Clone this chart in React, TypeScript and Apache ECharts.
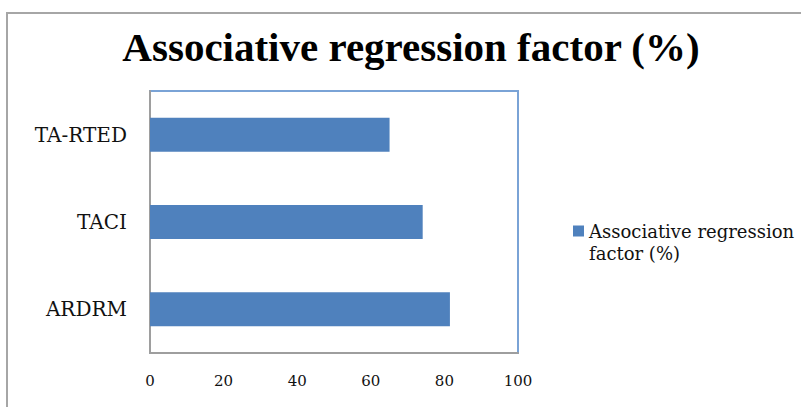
import React, { useEffect, useRef } from "react";
import * as echarts from "echarts";

const categories = ["ARDRM", "TACI", "TA-RTED"];
const values = [81.5, 74.1, 65.1];
const xTicks = { min: 0, max: 100, interval: 20 };
const seriesName = "Associative regression factor (%)";
const titleText = "Associative regression factor (%)";

export default function App() {
  const ref = useRef<HTMLDivElement>(null);
  useEffect(() => {
    if (!ref.current) return;
    const chart = echarts.init(ref.current, undefined, { renderer: "svg" });
    chart.setOption({
      animation: false,
      backgroundColor: "#ffffff",
      title: {
        text: titleText,
        left: 411,
        textAlign: "center",
        top: 26,
        padding: 0,
        textStyle: {
          fontFamily: "Liberation Serif",
          fontWeight: "bold",
          fontSize: 41,
          color: "#000000",
        },
      },
      graphic: [
        {
          type: "rect",
          shape: { x: 7, y: 13, width: 800, height: 400 },
          style: { fill: "none", stroke: "#a6a6a6", lineWidth: 2 },
          silent: true,
        },
        {
          type: "text",
          left: 589,
          top: 244,
          style: {
            text: "factor (%)",
            fontFamily: "DejaVu Serif",
            fontSize: 18,
            fill: "#111111",
          },
        },
      ],
      legend: {
        left: 573,
        top: 222,
        padding: 0,
        itemWidth: 11,
        itemHeight: 11,
        itemGap: 5,
        icon: "rect",
        formatter: () => "Associative regression",
        textStyle: {
          fontFamily: "DejaVu Serif",
          fontSize: 18,
          color: "#111111",
        },
        data: [seriesName],
      },
      grid: {
        left: 150,
        top: 91,
        right: 283,
        bottom: 54,
        show: true,
        borderColor: "#7aa3d6",
        borderWidth: 2,
        backgroundColor: "transparent",
      },
      xAxis: {
        type: "value",
        min: xTicks.min,
        max: xTicks.max,
        interval: xTicks.interval,
        axisLine: { show: true, lineStyle: { color: "#9e9e9e", width: 2 } },
        axisTick: { show: false },
        splitLine: { show: false },
        axisLabel: {
          margin: 20,
          fontFamily: "DejaVu Serif",
          fontSize: 15,
          color: "#111111",
        },
      },
      yAxis: {
        type: "category",
        data: categories,
        axisLine: { show: true, lineStyle: { color: "#9e9e9e", width: 2 } },
        axisTick: { show: false },
        axisLabel: {
          margin: 23,
          fontFamily: "DejaVu Serif",
          fontSize: 20,
          color: "#111111",
        },
      },
      series: [
        {
          name: seriesName,
          type: "bar",
          data: values,
          barWidth: 34,
          itemStyle: { color: "#4f81bd" },
        },
      ],
    });
    return () => chart.dispose();
  }, []);
  return (
    <div
      ref={ref}
      style={{ position: "fixed", left: 0, top: 0, width: 801, height: 407 }}
    />
  );
}
